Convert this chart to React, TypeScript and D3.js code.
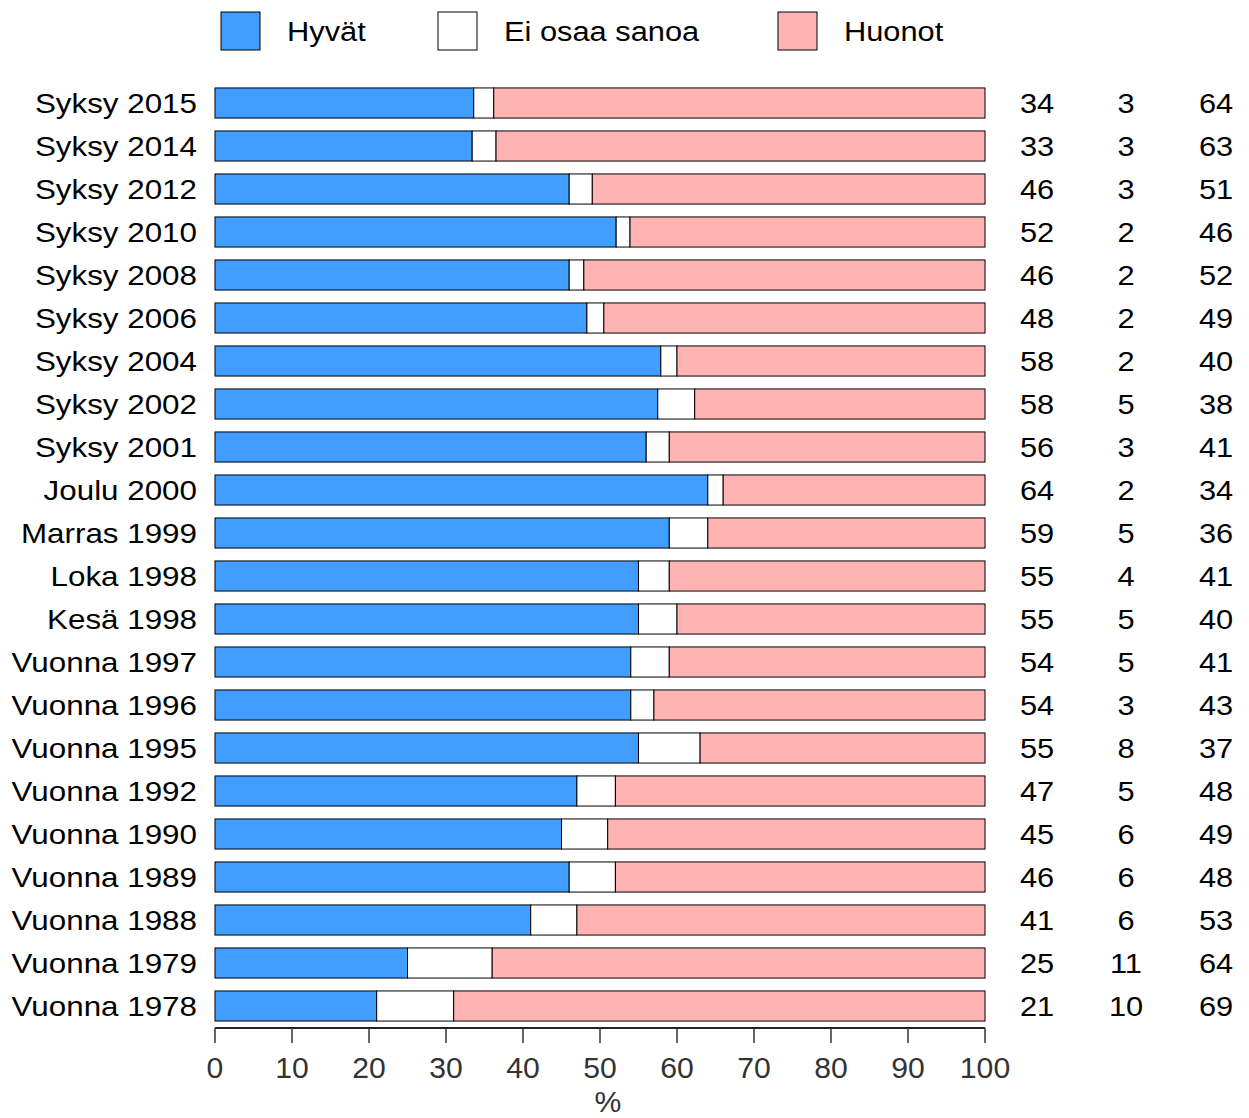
import React, { useEffect, useRef } from 'react';
import * as d3 from 'd3';

const categories = [
  'Syksy 2015', 'Syksy 2014', 'Syksy 2012', 'Syksy 2010', 'Syksy 2008', 'Syksy 2006',
  'Syksy 2004', 'Syksy 2002', 'Syksy 2001', 'Joulu 2000', 'Marras 1999', 'Loka 1998',
  'Kesä 1998', 'Vuonna 1997', 'Vuonna 1996', 'Vuonna 1995', 'Vuonna 1992', 'Vuonna 1990',
  'Vuonna 1989', 'Vuonna 1988', 'Vuonna 1979', 'Vuonna 1978',
];

// bar lengths (unrounded where the bars show it)
const hyvat = [33.6, 33.4, 46.0, 52.1, 46.0, 48.3, 57.9, 57.5, 56.0, 64, 59, 55, 55, 54, 54, 55, 47, 45, 46, 41, 25, 21];
const eos = [2.6, 3.1, 3.0, 1.8, 1.9, 2.2, 2.1, 4.8, 3.0, 2, 5, 4, 5, 5, 3, 8, 5, 6, 6, 6, 11, 10];
const huonot = [63.8, 63.5, 51.0, 46.1, 52.1, 49.5, 40.0, 37.7, 41.0, 34, 36, 41, 40, 41, 43, 37, 48, 49, 48, 53, 64, 69];

// printed numbers at the right
const hyvatLabels = [34, 33, 46, 52, 46, 48, 58, 58, 56, 64, 59, 55, 55, 54, 54, 55, 47, 45, 46, 41, 25, 21];
const eosLabels = [3, 3, 3, 2, 2, 2, 2, 5, 3, 2, 5, 4, 5, 5, 3, 8, 5, 6, 6, 6, 11, 10];
const huonotLabels = [64, 63, 51, 46, 52, 49, 40, 38, 41, 34, 36, 41, 40, 41, 43, 37, 48, 49, 48, 53, 64, 69];

const seriesNames = ['Hyvät', 'Ei osaa sanoa', 'Huonot'];
const colors = ['#419DFF', '#FFFFFF', '#FFB3B3'];
const xTicks = [0, 10, 20, 30, 40, 50, 60, 70, 80, 90, 100];

const W = 1249;
const H = 1118;
const FONT = 'Liberation Sans, Arial, Helvetica, sans-serif';

// text drawn a bit wider than Arial, like the original
const addText = (sel, x, y, str, anchor, opts: any = {}) => {
  const sx = opts.sx || 1.11;
  return sel.append('text')
    .attr('transform', `translate(${x},${y}) scale(${sx},1)`)
    .attr('dy', '0.36em')
    .attr('text-anchor', anchor)
    .style('font-family', FONT)
    .style('font-size', (opts.size || 28) + 'px')
    .style('fill', opts.fill || '#000')
    .text(str);
};

const App = () => {
  const ref = useRef(null);

  useEffect(() => {
    const svg = d3.select(ref.current);
    svg.selectAll('*').remove();

    const x = d3.scaleLinear().domain([0, 100]).range([215, 985]);
    const y = d3.scaleBand<string>()
      .domain(categories)
      .range([81.5, 1027.5])
      .paddingInner(0.3)
      .paddingOuter(0.15);

    const rows = categories.map((c, i) => ({ cat: c, vals: [hyvat[i], eos[i], huonot[i]] }));
    const stack = d3.stack<any>().keys(['0', '1', '2']).value((d, k) => d.vals[+k]);
    const layers = stack(rows);

    const g = svg.append('g');
    layers.forEach((layer, li) => {
      g.append('g')
        .selectAll('rect')
        .data(layer)
        .enter().append('rect')
        .attr('x', d => x(d[0]))
        .attr('y', d => y(d.data.cat))
        .attr('width', d => x(Math.min(d[1], 100)) - x(d[0]))
        .attr('height', y.bandwidth())
        .attr('fill', colors[li])
        .attr('stroke', '#000')
        .attr('stroke-width', 1);
    });

    // category labels
    const catG = svg.append('g');
    categories.forEach(c => {
      addText(catG, 197, y(c) + y.bandwidth() / 2, c, 'end', { sx: 1.12 });
    });

    // value columns
    const cols = [hyvatLabels, eosLabels, huonotLabels];
    const colX = [1037, 1126, 1216];
    const numG = svg.append('g');
    cols.forEach((arr, ci) => {
      arr.forEach((v, i) => {
        addText(numG, colX[ci], y(categories[i]) + y.bandwidth() / 2, v, 'middle', { sx: 1.1 });
      });
    });

    // x axis
    const axis = svg.append('g').attr('transform', 'translate(0,1028)');
    axis.append('line')
      .attr('x1', x(0)).attr('x2', x(100))
      .attr('y1', 0).attr('y2', 0)
      .attr('stroke', '#222').attr('stroke-width', 2.2);
    axis.selectAll('line.tick')
      .data(xTicks)
      .enter().append('line')
      .attr('class', 'tick')
      .attr('x1', d => x(d)).attr('x2', d => x(d))
      .attr('y1', 0).attr('y2', 15)
      .attr('stroke', '#333').attr('stroke-width', 1.5);
    xTicks.forEach(t => {
      addText(axis, x(t), 40, t, 'middle', { size: 29, sx: 1.04, fill: '#333' });
    });

    addText(svg, x(50) + 8, 1102, '%', 'middle', { size: 29, sx: 1.04, fill: '#333' });

    // legend
    const legX = [221, 438, 778];
    const legend = svg.append('g');
    seriesNames.forEach((name, i) => {
      legend.append('rect')
        .attr('x', legX[i]).attr('y', 12)
        .attr('width', 39).attr('height', 38)
        .attr('fill', colors[i])
        .attr('stroke', '#000').attr('stroke-width', 1);
      addText(legend, legX[i] + 66, 31, name, 'start', { sx: 1.1 });
    });
  }, []);

  return (
    <svg ref={ref} width={W} height={H} style={{ display: 'block', position: 'absolute', left: 0, top: 0 }}></svg>
  );
};

export default App;
